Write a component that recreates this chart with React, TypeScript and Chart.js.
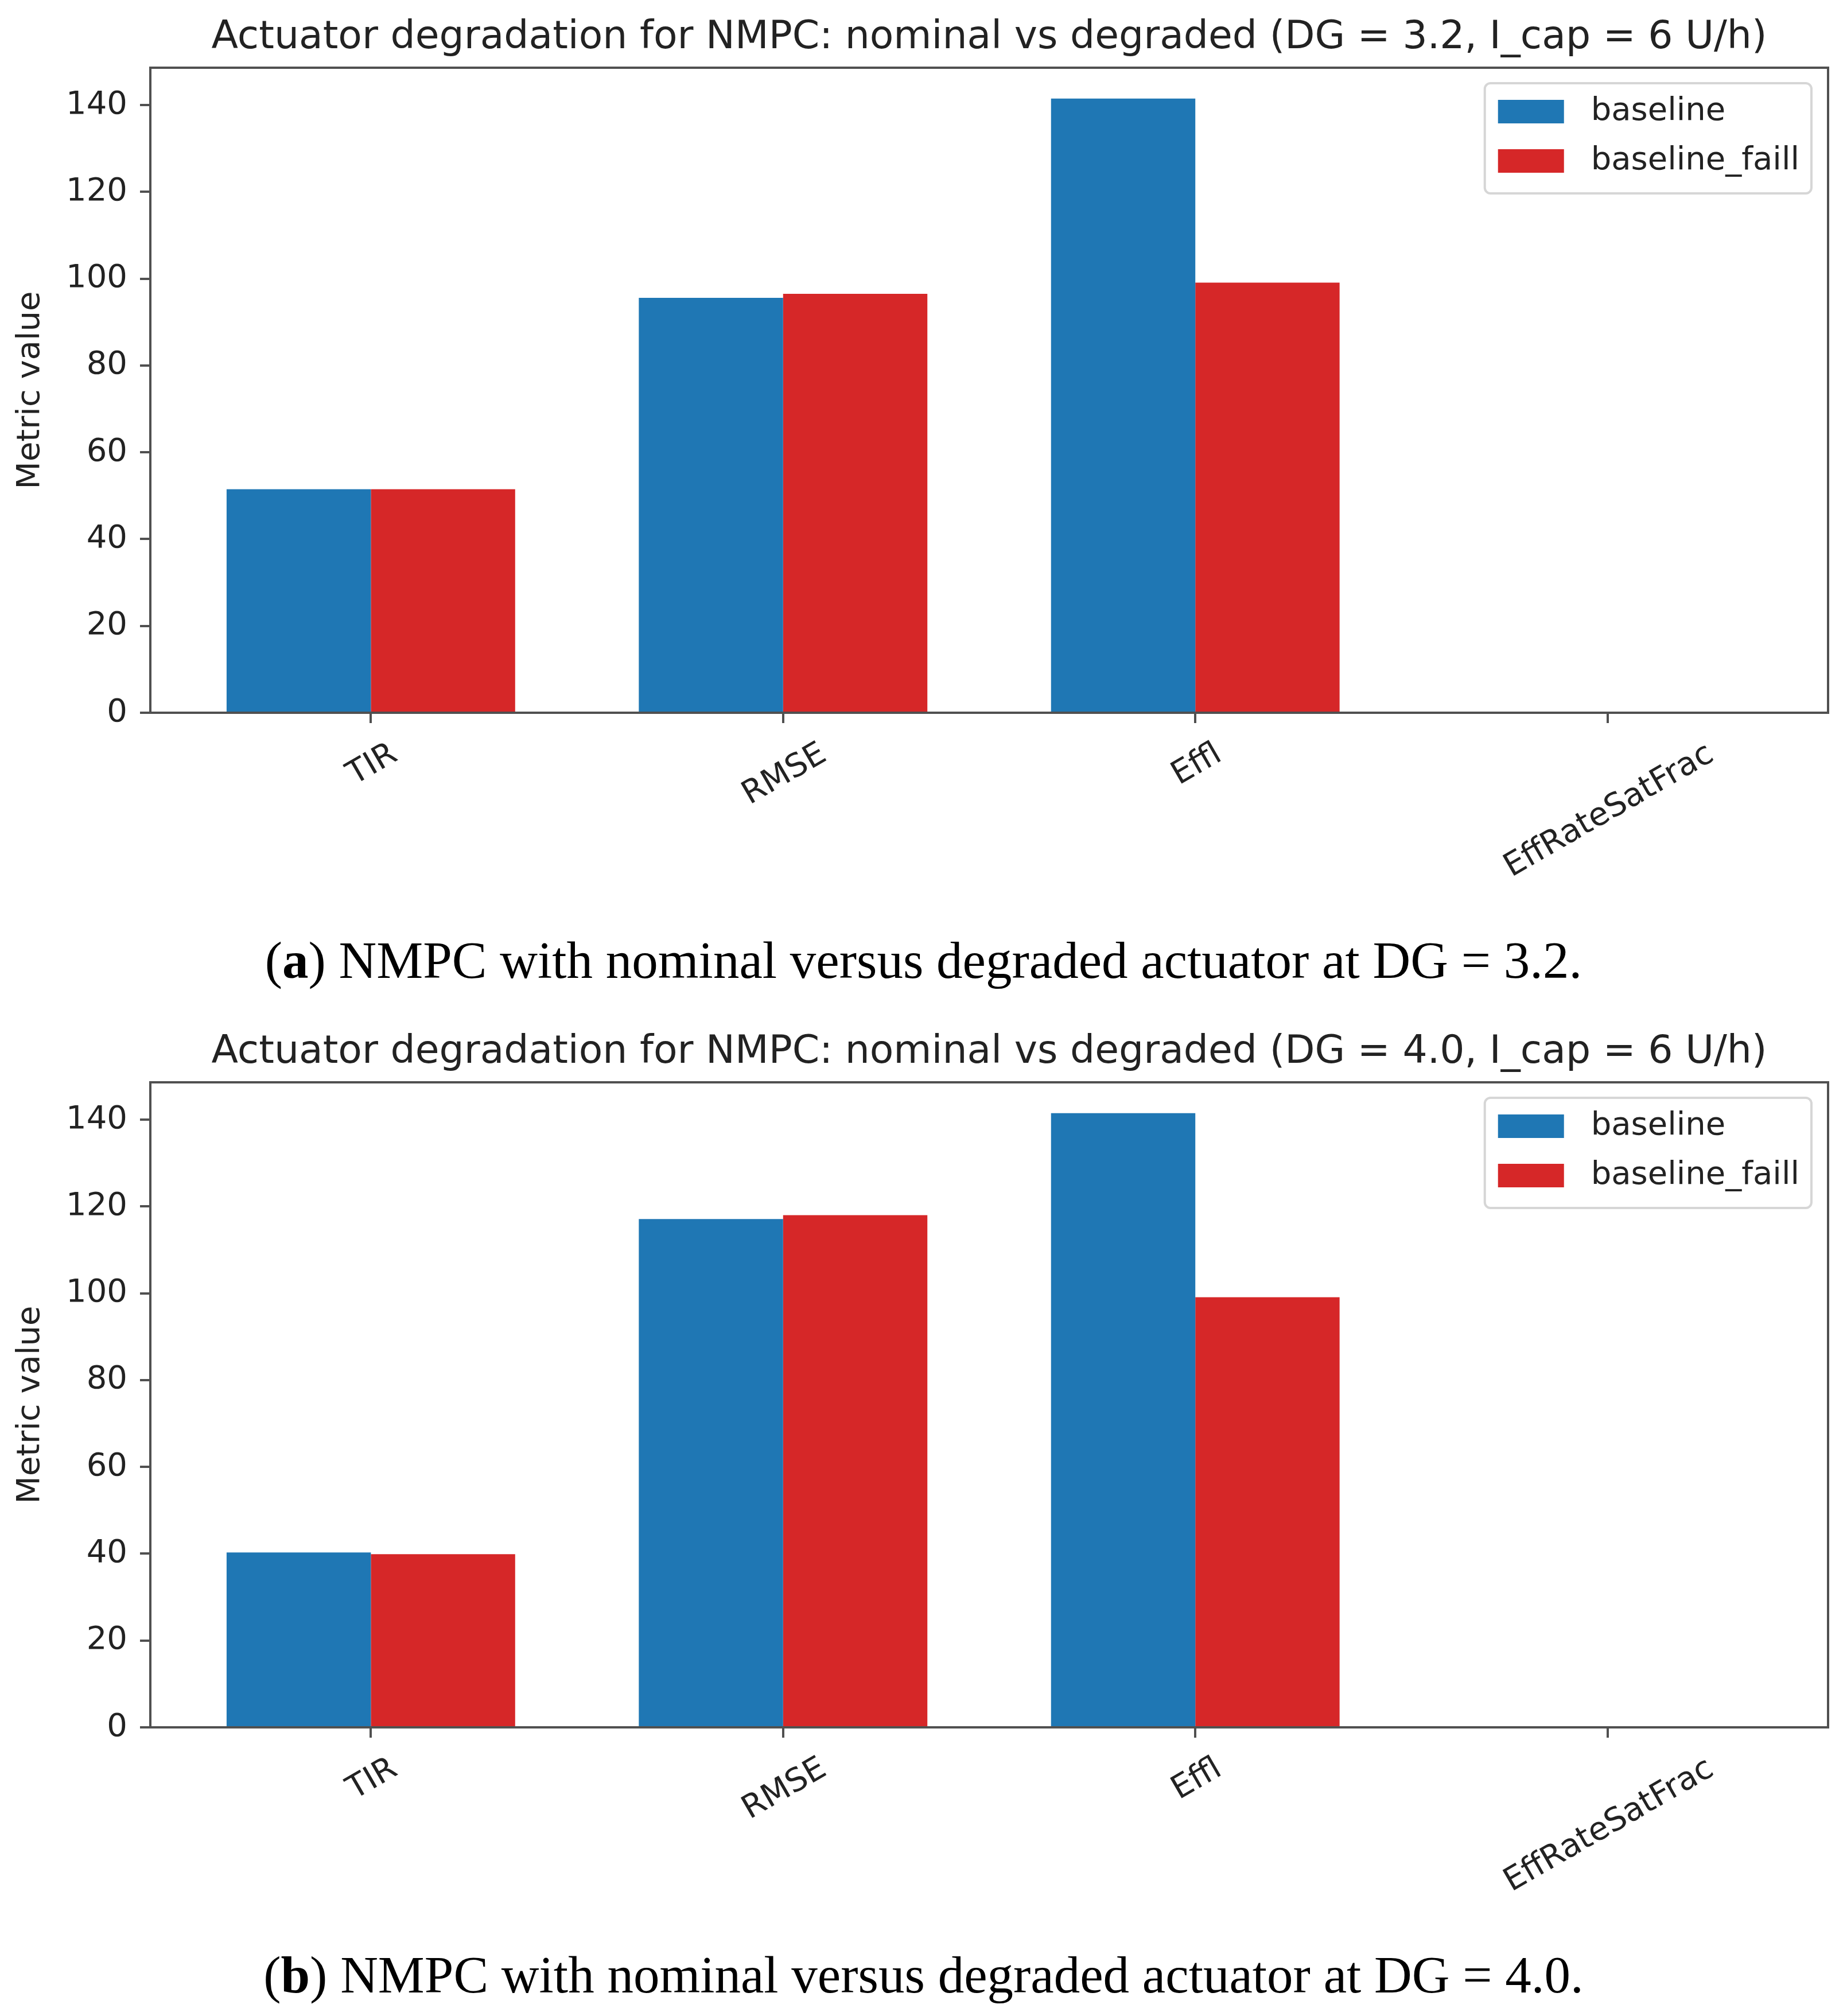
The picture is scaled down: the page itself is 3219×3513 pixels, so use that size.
import { useEffect, useRef } from 'react';
import { Chart, registerables } from 'chart.js';

Chart.register(...registerables);
Chart.defaults.font.family = "'DejaVu Sans', sans-serif";

// --- data -------------------------------------------------------------
const CATEGORIES = ['TIR', 'RMSE', 'Effl', 'EffRateSatFrac'];
const SERIES = ['baseline', 'baseline_faill'];
const COLORS = ['#1f77b4', '#d62728'];
const Y_TICKS = [0, 20, 40, 60, 80, 100, 120, 140];

const A_BASELINE = [51.5, 95.6, 141.5, 0];
const A_FAILED   = [51.5, 96.5, 99.1, 0];
const B_BASELINE = [40.3, 117.1, 141.5, 0];
const B_FAILED   = [39.9, 118.0, 99.1, 0];

const TITLE_A = 'Actuator degradation for NMPC: nominal vs degraded (DG = 3.2, I_cap = 6 U/h)';
const TITLE_B = 'Actuator degradation for NMPC: nominal vs degraded (DG = 4.0, I_cap = 6 U/h)';
const CAPTION_A = ' NMPC with nominal versus degraded actuator at DG = 3.2.';
const CAPTION_B = ' NMPC with nominal versus degraded actuator at DG = 4.0.';

// axis limits as matplotlib picked them (5% margins)
const X_MIN = -0.535, X_MAX = 3.535;
const Y_MAX = 148.6;

const AXIS = '#505050';
const TEXT = '#222';
const FS = 56;
const CANVAS_H = 1600;

// frame (top + right spines)
const framePlugin = {
  id: 'frame',
  afterDraw(chart: any) {
    const { ctx, chartArea: a } = chart;
    ctx.save();
    ctx.strokeStyle = AXIS;
    ctx.lineWidth = 4;
    ctx.beginPath();
    ctx.moveTo(a.left, a.top);
    ctx.lineTo(a.right, a.top);
    ctx.lineTo(a.right, a.bottom);
    ctx.stroke();
    ctx.restore();
  },
};

// title centred over the axes, like matplotlib
const titlePlugin = {
  id: 'axTitle',
  afterDraw(chart: any, _args: any, opts: any) {
    const { ctx, chartArea: a } = chart;
    ctx.save();
    ctx.font = `68px 'DejaVu Sans'`;
    ctx.fillStyle = TEXT;
    ctx.textAlign = 'center';
    ctx.textBaseline = 'alphabetic';
    ctx.fillText(opts.text, (a.left + a.right) / 2, 84);
    ctx.restore();
  },
};

// rotated x labels, centred on the tick (ha='center', rotation=30)
const xLabelPlugin = {
  id: 'xLabels',
  afterDraw(chart: any) {
    const { ctx, chartArea: a, scales } = chart;
    const rot = Math.PI / 6;
    const capH = 0.73 * FS;
    ctx.save();
    ctx.font = `${FS}px 'DejaVu Sans'`;
    ctx.fillStyle = TEXT;
    ctx.textAlign = 'center';
    ctx.textBaseline = 'alphabetic';
    CATEGORIES.forEach((lab, i) => {
      const L = ctx.measureText(lab).width;
      const cx = scales.x.getPixelForValue(i);
      const cy = a.bottom + 46 + (L * Math.sin(rot) + capH * Math.cos(rot)) / 2;
      ctx.save();
      ctx.translate(cx, cy);
      ctx.rotate(-rot);
      ctx.fillText(lab, 0, capH / 2);
      ctx.restore();
    });
    ctx.restore();
  },
};

// legend box in the upper right corner of the axes
const legendPlugin = {
  id: 'innerLegend',
  afterDraw(chart: any) {
    const { ctx, chartArea: a } = chart;
    const ds = chart.data.datasets;
    ctx.save();
    ctx.font = `${FS}px 'DejaVu Sans'`;
    const maxW = Math.max(...ds.map((d: any) => ctx.measureText(d.label).width));
    const w = 23 + 115 + 47 + maxW + 21;
    const h = 192;
    const right = a.right - 29;
    const left = right - w;
    const top = a.top + 27;
    ctx.fillStyle = 'rgba(255,255,255,0.8)';
    ctx.strokeStyle = '#d6d6d6';
    ctx.lineWidth = 4;
    ctx.beginPath();
    ctx.roundRect(left, top, w, h, 10);
    ctx.fill();
    ctx.stroke();
    ds.forEach((d: any, i: number) => {
      const cy = a.top + 76 + i * 86;
      ctx.fillStyle = d.backgroundColor;
      ctx.fillRect(left + 23, cy - 20, 115, 41);
      ctx.fillStyle = TEXT;
      ctx.textAlign = 'left';
      ctx.textBaseline = 'middle';
      ctx.fillText(d.label, left + 23 + 115 + 47, cy);
    });
    ctx.restore();
  },
};

interface PanelProps {
  title: string;
  letter: string;
  caption: string;
  baseline: number[];
  failed: number[];
  top: number;
}

function Panel({ title, letter, caption, baseline, failed, top }: PanelProps) {
  const ref = useRef<HTMLCanvasElement>(null);

  useEffect(() => {
    if (!ref.current) return;
    const series = [baseline, failed];
    const chart = new Chart(ref.current, {
      type: 'bar',
      data: {
        datasets: SERIES.map((name, si) => ({
          label: name,
          data: series[si].map((v, i) => ({ x: i, y: v })),
          backgroundColor: COLORS[si],
          borderWidth: 0,
          categoryPercentage: 0.7,
          barPercentage: 1.0,
        })),
      },
      options: {
        animation: false,
        responsive: true,
        maintainAspectRatio: false,
        layout: { padding: { top: 118, right: 33, left: 0, bottom: 0 } },
        plugins: {
          legend: { display: false },
          tooltip: { enabled: false },
          title: { display: false },
          axTitle: { text: title },
        } as any,
        scales: {
          x: {
            type: 'linear',
            min: X_MIN,
            max: X_MAX,
            offset: false,
            grid: { offset: false, drawOnChartArea: false, drawTicks: true, tickLength: 18, color: AXIS, lineWidth: 4 },
            border: { display: true, color: AXIS, width: 4 },
            ticks: { display: false },
            afterBuildTicks: (s: any) => { s.ticks = CATEGORIES.map((_, i) => ({ value: i })); },
            afterFit: (s: any) => { s.height = CANVAS_H - 1242; },
          },
          y: {
            min: 0,
            max: Y_MAX,
            grid: { drawOnChartArea: false, drawTicks: true, tickLength: 18, color: AXIS, lineWidth: 4 },
            border: { display: true, color: AXIS, width: 4 },
            ticks: { color: TEXT, font: { size: FS }, padding: 22 },
            afterBuildTicks: (s: any) => { s.ticks = Y_TICKS.map(v => ({ value: v })); },
            afterFit: (s: any) => { s.width = 262; },
            title: { display: true, text: 'Metric value', color: TEXT, font: { size: FS }, padding: { top: 20, bottom: 0 } },
          },
        },
      },
      plugins: [framePlugin, titlePlugin, xLabelPlugin, legendPlugin],
    } as any);
    return () => chart.destroy();
  }, [title, baseline, failed]);

  return (
    <div style={{ position: 'absolute', left: 0, top, width: 3219, height: 1745 }}>
      <div style={{ position: 'absolute', left: 0, top: 0, width: 3219, height: CANVAS_H }}>
        <canvas ref={ref} />
      </div>
      <div style={{
        position: 'absolute', left: 0, top: 1624, width: 3219, height: 100, lineHeight: '100px',
        textAlign: 'center', fontFamily: "'Liberation Serif', serif", fontSize: 91, color: '#000',
      }}>
        (<b>{letter}</b>){caption}
      </div>
    </div>
  );
}

export default function App() {
  useEffect(() => { document.body.style.margin = '0'; }, []);
  return (
    <div style={{ position: 'relative', width: 3219, height: 3513, overflow: 'hidden', background: '#fff' }}>
      <Panel title={TITLE_A} letter="a" caption={CAPTION_A} baseline={A_BASELINE} failed={A_FAILED} top={0} />
      <Panel title={TITLE_B} letter="b" caption={CAPTION_B} baseline={B_BASELINE} failed={B_FAILED} top={1768} />
    </div>
  );
}
